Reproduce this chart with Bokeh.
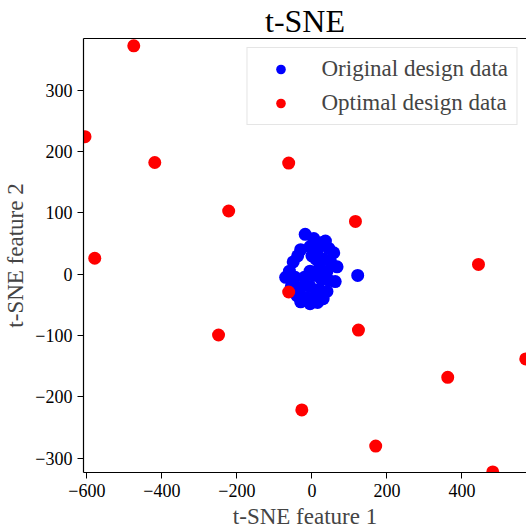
from bokeh.plotting import figure
from bokeh.models import LinearAxis, FixedTicker, Range1d, Legend, LegendItem, CustomJSTickFormatter
from bokeh.embed import file_html
from bokeh.resources import INLINE

# ---- data ----
orig_x = [-18, 5, 30, 36, -30, -5, 15, 45, 58, -50, -38, 10, 30, 50, 67,
          -5, 20, 40, -70, -45, -20, 5, 25, 45, 62, -55, -30, -5, 20, 40,
          -40, -15, 10, 30, -30, -5, 15, -60, 0, 122]
orig_y = [65, 58, 52, 54, 40, 45, 40, 42, 35, 20, 30, 25, 25, 20, 12,
          5, 10, 5, -5, -5, -5, -2, -8, -10, -12, -20, -22, -20, -25, -28,
          -35, -38, -35, -40, -45, -48, -46, 5, 30, -2]

opt_x = [-475, -605, -419, -62, -222, -579, 116, 444, -62, -249, 124, 570,
         362, -27, 170, 482]
opt_y = [372, 224, 182, 181, 103, 26, 86, 16, -29, -99, -91, -138,
         -168, -221, -280, -322]

x_ticks = [-600, -400, -200, 0, 200, 400]
y_ticks = [-300, -200, -100, 0, 100, 200, 300]

FONT = "Liberation Serif"

p = figure(frame_width=443, frame_height=434,
           x_range=Range1d(-609, 572), y_range=Range1d(-323, 384),
           output_backend="svg", toolbar_location=None,
           min_border_left=77, min_border_right=0, min_border_top=31,
           min_border_bottom=58)

p.title.text = "t-SNE"
p.title.align = "center"
p.title.text_font = FONT
p.title.text_font_size = "32px"
p.title.text_font_style = "normal"
p.title.text_color = "black"
p.title.standoff = 0

p.grid.visible = False
p.outline_line_color = None

fmt_code = "return (tick < 0 ? '\u2212' : '') + Math.abs(tick).toString();"

for ax, ticks, lab in ((p.xaxis[0], x_ticks, "t-SNE feature 1"),
                       (p.yaxis[0], y_ticks, "t-SNE feature 2")):
    ax.ticker = FixedTicker(ticks=ticks)
    ax.formatter = CustomJSTickFormatter(code=fmt_code)
    ax.axis_label = lab
    ax.axis_label_text_font = FONT
    ax.axis_label_text_font_size = "23px"
    ax.axis_label_text_font_style = "normal"
    ax.axis_label_standoff = 4
    ax.major_label_text_font = FONT
    ax.major_label_text_font_size = "18px"
    ax.major_label_text_color = "black"
    ax.major_label_standoff = 5
    ax.major_tick_in = 0
    ax.major_tick_out = 6
    ax.minor_tick_line_color = None
    ax.axis_line_color = "black"
    ax.axis_line_width = 1.2
    ax.major_tick_line_color = "black"

top = LinearAxis(ticker=FixedTicker(ticks=[]), major_label_text_font_size="0px",
                 major_tick_line_color=None, minor_tick_line_color=None,
                 major_tick_out=0, major_tick_in=0, major_label_standoff=0,
                 axis_line_color="black", axis_line_width=1.2)
p.add_layout(top, "above")

r1 = p.scatter(orig_x, orig_y, size=13, color="#0000ff", line_color=None)
r2 = p.scatter(opt_x, opt_y, size=13, color="#ff0000", line_color=None)

legend = Legend(items=[LegendItem(label="Original design data", renderers=[r1]),
                       LegendItem(label="Optimal design data", renderers=[r2])],
                location="top_right", margin=9, padding=8, spacing=8,
                glyph_width=50, glyph_height=24, label_height=24,
                label_standoff=16, label_text_font=FONT,
                label_text_font_size="23px",
                border_line_color="#cccccc", border_line_width=1,
                background_fill_alpha=0.85)
p.add_layout(legend, "center")

open("out.html", "w").write(file_html(p, INLINE))
